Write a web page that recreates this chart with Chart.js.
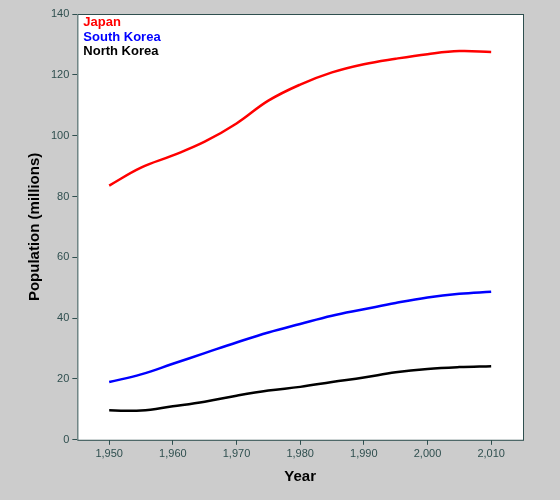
<!DOCTYPE html>
<html><head><script src="https://cdn.jsdelivr.net/npm/chart.js@4"></script>
<style>html,body{margin:0;background:#cccccc;}#w{width:560px;height:500px;}</style></head>
<body><div id="w"><canvas id="c"></canvas></div>
<script>
const years=[1950,1955,1960,1965,1970,1975,1980,1985,1990,1995,2000,2005,2010];
const japan=[83.6,89.5,93.5,98,104,111.5,116.8,120.8,123.5,125.3,126.8,127.8,127.5];
const southKorea=[19,21.5,25,28.5,32,35.3,38.1,40.8,42.9,45,46.8,48,48.7];
const northKorea=[9.7,9.6,11,12.5,14.5,16.2,17.4,19,20.5,22.2,23.3,23.9,24.2];
const xTicks=[1950,1960,1970,1980,1990,2000,2010];
const names=['Japan','South Korea','North Korea'];
const colors=['#ff0000','#0000ff','#000000'];
const series=[japan,southKorea,northKorea];
const bg={id:'bg',beforeDraw(ch){const a=ch.chartArea,x=ch.ctx;x.save();x.fillStyle='#fff';x.fillRect(a.left,a.top,a.right-a.left,a.bottom-a.top);x.restore();},
afterDraw(ch){const a=ch.chartArea,x=ch.ctx;x.save();x.strokeStyle='#2f4f4f';x.lineWidth=1;x.strokeRect(a.left+0.5,a.top+0.5,a.right-a.left,a.bottom-a.top);
x.font='bold 13px Arial, "Liberation Sans"';x.textBaseline='top';names.forEach((n,i)=>{x.fillStyle=colors[i];x.fillText(n,a.left+6,a.top+2+i*14.5);});x.restore();}};
new Chart(document.getElementById('c'),{type:'line',
data:{datasets:series.map((s,i)=>({label:names[i],data:years.map((y,j)=>({x:y,y:s[j]})),borderColor:colors[i],borderWidth:2.5,pointRadius:0,tension:0.4,fill:false}))},
options:{responsive:true,maintainAspectRatio:false,animation:false,
layout:{padding:{left:22,right:37,top:14,bottom:10}},
plugins:{legend:{display:false},tooltip:{enabled:false}},
scales:{x:{type:'linear',min:1945,max:2015,grid:{drawOnChartArea:false,drawTicks:true,tickLength:5,color:'#2f4f4f'},border:{display:false},
afterBuildTicks:s=>{s.ticks=xTicks.map(v=>({value:v}));},
ticks:{color:'#2f4f4f',font:{size:11,family:'Arial'},padding:3},
title:{display:true,text:'Year',color:'#000',font:{size:15,weight:'bold',family:'Arial'}}},
y:{min:0,max:140,grid:{drawOnChartArea:false,drawTicks:true,tickLength:5,color:'#2f4f4f'},border:{display:false},
ticks:{stepSize:20,color:'#2f4f4f',font:{size:11,family:'Arial'},padding:3},
title:{display:true,text:'Population (millions)',color:'#000',font:{size:15,weight:'bold',family:'Arial'}}}}},
plugins:[bg]});
</script></body></html>
